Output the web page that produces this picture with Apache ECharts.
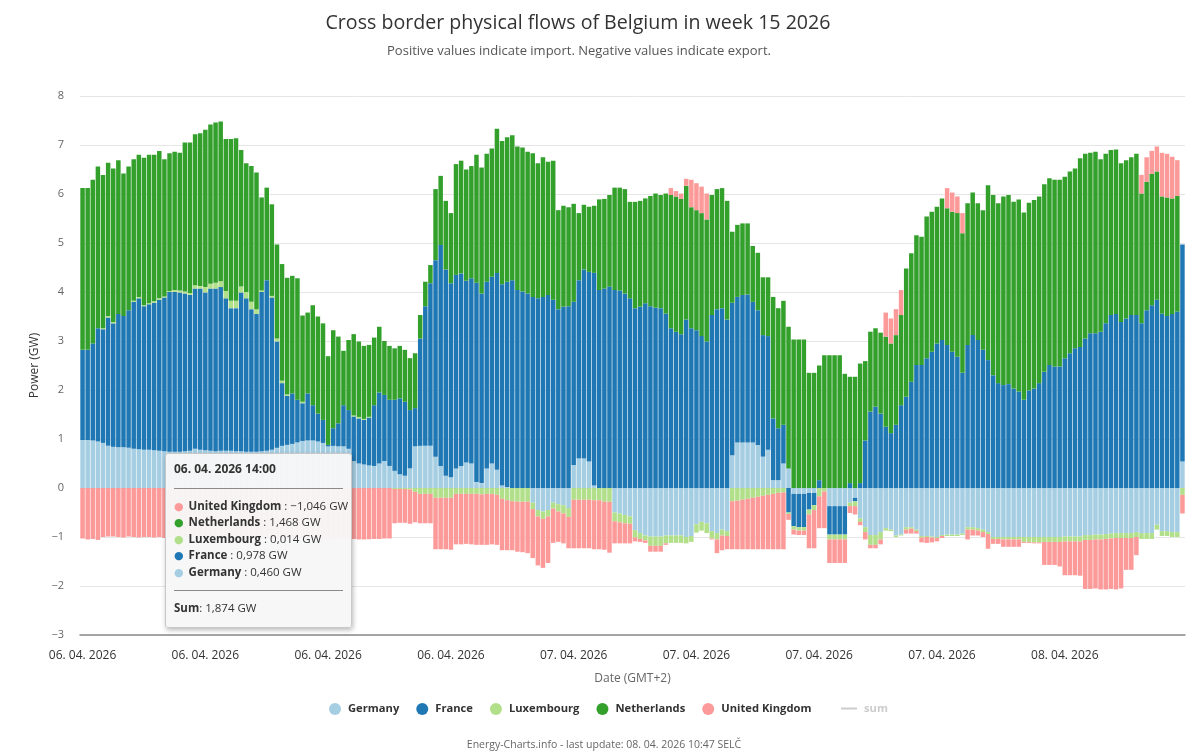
<!DOCTYPE html>
<html>
<head>
<meta charset="utf-8">
<script src="https://cdn.jsdelivr.net/npm/echarts@6/dist/echarts.min.js"></script>
<style>
html,body{margin:0;padding:0;background:#fff;}
#chart{width:1200px;height:752px;}
</style>
</head>
<body>
<div id="chart"></div>
<script>
const days = ['06. 04. 2026', '07. 04. 2026', '08. 04. 2026'];
const seriesNames = ['Germany', 'France', 'Luxembourg', 'Netherlands', 'United Kingdom'];
const seriesColors = ['#a6cee3', '#1f78b4', '#b2df8a', '#33a02c', '#fb9a99'];

const germany = [
0.98,0.98,0.97,0.95,0.92,0.86,0.84,0.83,0.83,0.82,
0.80,0.79,0.78,0.78,0.77,0.76,0.75,0.74,0.74,0.74,
0.75,0.76,0.80,0.78,0.77,0.76,0.75,0.76,0.76,0.76,
0.75,0.75,0.74,0.74,0.74,0.75,0.76,0.78,0.82,0.86,
0.88,0.90,0.93,0.96,0.97,0.97,0.95,0.92,0.85,0.86,
0.85,0.85,0.80,0.55,0.50,0.48,0.46,0.45,0.50,0.55,
0.45,0.35,0.28,0.25,0.40,0.85,0.86,0.86,0.86,0.64,
0.45,0.25,0.22,0.40,0.45,0.52,0.50,0.12,0.10,0.40,
0.50,0.37,0.05,0.02,0,0,0,0,-0.30,-0.45,
-0.48,-0.45,-0.30,-0.33,-0.35,-0.41,0.47,0.60,0.60,0.54,
0.05,0,0,0,-0.50,-0.52,-0.55,-0.58,-0.86,-0.92,
-0.97,-0.99,-0.99,-0.99,-0.97,-0.97,-0.97,-0.97,-1.00,-0.98,
-0.74,-0.69,-0.72,-0.88,-0.92,-0.85,-0.88,0.67,0.93,0.93,
0.93,0.93,0.88,0.64,0.78,0.16,0.16,0.50,0.40,-0.12,
-0.12,-0.12,-0.10,-0.10,0,0,-0.37,-0.37,-0.37,-0.37,
-0.30,-0.20,-0.62,-0.80,-0.96,-0.96,-0.90,-0.82,-0.85,-0.97,
-0.95,-0.80,-0.80,-0.85,-0.98,-0.98,-0.99,-1.00,-0.96,-0.95,
-0.95,-0.95,-0.93,-0.80,-0.80,-0.82,-0.85,-0.90,-1.00,-1.00,
-1.00,-1.00,-1.00,-1.00,-1.00,-1.00,-1.00,-1.00,-1.00,-1.00,
-1.00,-1.00,-0.99,-0.99,-0.99,-0.99,-0.96,-0.96,-0.95,-0.95,
-0.94,-0.93,-0.92,-0.92,-0.92,-0.92,-0.90,-0.92,-0.92,-0.92,
-0.75,-0.88,-0.88,-0.90,-0.90,0.54
];

const france = [
1.84,1.84,1.98,2.31,2.32,2.62,2.52,2.72,2.68,2.81,
3.00,3.08,2.93,2.97,3.01,3.08,3.14,3.26,3.26,3.25,
3.22,3.18,3.27,3.29,3.22,3.31,3.32,3.34,3.11,2.91,
2.92,3.24,3.13,2.91,2.81,3.25,3.48,3.11,2.17,1.28,
1.00,1.03,0.87,0.77,0.96,0.72,0.57,0.47,0.03,0.36,
0.47,0.84,0.79,0.91,0.92,0.91,0.978,1.24,1.45,1.35,
1.35,1.45,1.55,1.51,1.19,0.78,2.19,2.85,3.32,4.01,
4.51,4.21,3.96,3.95,3.93,3.71,3.78,4.07,3.87,3.81,
3.81,4.02,4.11,4.19,4.24,4.04,4.01,3.97,3.90,3.87,
3.90,3.94,3.84,3.65,3.70,3.71,3.33,3.64,3.86,3.87,
4.34,4.04,4.07,4.11,4.04,4.03,3.97,3.87,3.67,3.70,
3.77,3.71,3.68,3.67,3.56,3.26,3.19,3.14,3.44,3.26,
3.22,3.10,2.99,3.53,3.65,3.67,3.44,3.11,2.97,3.01,
3.02,2.87,2.75,2.48,2.32,1.26,1.06,0.79,-0.50,-0.66,
-0.68,-0.68,-0.34,-0.25,0.16,0,-0.58,-0.58,-0.58,-0.58,
0.10,-0.07,0.10,0.97,1.56,1.66,1.52,1.25,1.12,1.29,
1.69,1.86,2.17,2.51,2.51,2.65,2.78,2.95,3.02,2.92,
2.78,2.68,2.35,2.92,3.12,3.02,2.82,2.61,2.30,2.14,
2.10,2.12,2.03,1.97,1.80,1.99,2.03,2.14,2.37,2.51,
2.48,2.48,2.65,2.75,2.85,2.88,3.05,3.16,3.16,3.19,
3.36,3.53,3.55,3.39,3.46,3.53,3.53,3.36,3.63,3.73,
3.84,3.56,3.51,3.55,3.60,4.43
];

const luxembourg = [
0,0,0,0,0.02,0.03,0.03,0,0,0,
0.02,0.03,0.02,0.02,0.03,0.03,0.02,0.02,0.04,0.04,
0.04,0.04,0.07,0.05,0.11,0.10,0.12,0.12,0.15,0.15,
0.15,0.12,0.13,0.15,0.10,0.03,0,0.03,0.06,0.05,
0.03,0,0,0.03,0,0,0,0,0,0,
0,0,0,0.02,0.03,0.02,0.014,0,0,0,
0,-0.02,-0.02,-0.02,-0.03,-0.08,-0.12,-0.12,-0.12,-0.20,
-0.20,-0.20,-0.20,-0.12,-0.12,-0.12,-0.12,-0.12,-0.13,-0.12,
-0.12,-0.14,-0.22,-0.25,-0.27,-0.28,-0.28,-0.28,-0.13,-0.13,
-0.15,-0.13,-0.12,-0.15,-0.17,-0.18,-0.24,-0.24,-0.24,-0.24,
-0.25,-0.25,-0.28,-0.28,-0.18,-0.18,-0.17,-0.15,-0.15,-0.12,
-0.10,-0.19,-0.19,-0.19,-0.16,-0.15,-0.15,-0.15,-0.13,-0.12,
-0.17,-0.18,-0.20,-0.15,-0.13,-0.12,-0.10,-0.27,-0.26,-0.24,
-0.22,-0.20,-0.18,-0.16,-0.14,-0.12,-0.10,-0.09,-0.03,-0.07,
-0.07,-0.07,-0.10,-0.10,-0.17,-0.07,-0.10,-0.10,-0.10,-0.10,
-0.07,-0.10,-0.07,-0.10,-0.20,-0.20,-0.15,-0.05,-0.03,-0.03,
-0.02,-0.05,-0.03,-0.03,-0.03,-0.02,-0.02,-0.02,-0.02,-0.03,
-0.03,-0.03,-0.03,-0.05,-0.05,-0.05,-0.05,-0.04,-0.04,-0.04,
-0.05,-0.05,-0.05,-0.05,-0.10,-0.10,-0.11,-0.11,-0.10,-0.10,
-0.10,-0.10,-0.10,-0.10,-0.10,-0.10,-0.10,-0.10,-0.10,-0.10,
-0.10,-0.10,-0.10,-0.10,-0.10,-0.10,-0.10,-0.12,-0.12,-0.12,
-0.10,-0.10,-0.10,-0.10,-0.10,-0.14
];

const netherlands = [
3.30,3.30,3.34,3.30,3.13,3.13,3.13,3.14,2.91,2.93,
2.89,2.90,3.01,3.03,2.99,3.01,2.80,2.81,2.82,2.81,
3.04,3.07,3.08,3.12,3.21,3.25,3.27,3.26,3.10,3.30,
3.32,2.79,2.63,2.77,2.79,1.90,1.89,1.87,1.92,2.38,
2.38,2.40,2.48,1.76,1.65,2.04,1.98,1.97,1.81,2.00,
1.77,1.11,1.43,1.66,1.54,1.49,1.468,1.38,1.34,1.10,
1.10,1.05,1.07,1.06,1.06,1.12,0.48,0.50,0.37,1.45,
1.41,1.40,1.43,2.26,2.30,2.27,2.29,2.61,2.57,2.61,
2.62,2.94,2.92,2.95,2.96,2.93,2.94,2.89,2.93,2.76,
2.85,2.72,2.84,2.02,2.06,2.02,2.00,1.37,1.32,1.33,
1.37,1.85,1.83,1.87,2.09,2.10,2.13,1.97,2.17,2.16,
2.14,2.25,2.33,2.31,2.45,2.72,2.76,2.76,2.73,2.47,
2.45,2.51,2.49,2.45,2.45,2.45,2.42,1.45,1.47,1.46,
1.45,1.14,1.17,1.18,1.20,2.48,2.45,2.53,2.89,3.03,
3.03,3.03,2.35,2.35,2.34,2.71,2.71,2.71,2.71,2.33,
2.17,2.27,2.44,1.62,1.63,1.60,1.65,1.84,1.83,1.83,
1.84,2.62,2.62,2.65,2.62,2.89,2.86,2.79,2.89,2.79,
2.86,2.93,2.85,2.89,2.91,2.79,2.85,3.57,3.68,3.67,
3.85,3.86,3.81,3.92,3.82,3.83,3.85,3.81,3.83,3.81,
3.81,3.81,3.70,3.71,3.67,3.85,3.77,3.68,3.70,3.52,
3.46,3.37,3.36,3.24,3.23,3.22,3.29,2.65,2.62,2.68,
2.62,2.39,2.42,2.36,2.36,0
];

const unitedKingdom = [
-1.03,-1.05,-1.04,-1.06,-1.00,-0.99,-0.99,-1.00,-1.01,-0.99,
-1.00,-1.01,-1.00,-1.00,-1.01,-1.00,-1.02,-1.01,-1.02,-1.02,
-1.01,-1.02,-1.01,-1.02,-1.01,-1.02,-1.02,-1.01,-1.02,-1.03,
-1.02,-1.02,-1.03,-1.03,-1.02,-1.03,-1.02,-1.03,-1.02,-1.02,
-1.03,-1.02,-1.03,-1.03,-1.02,-1.03,-1.02,-1.03,-1.04,-1.04,
-1.04,-1.03,-1.04,-1.04,-1.05,-1.05,-1.046,-1.04,-1.04,-1.03,
-1.03,-0.70,-0.69,-0.69,-0.70,-0.62,-0.60,-0.60,-0.60,-1.05,
-1.05,-1.05,-1.06,-1.03,-1.03,-1.02,-1.03,-1.04,-1.03,-1.04,
-1.03,-1.02,-1.05,-1.02,-1.00,-1.02,-1.03,-1.05,-1.00,-1.00,
-1.00,-0.95,-0.70,-0.62,-0.61,-0.64,-0.99,-0.99,-0.99,-0.99,
-1.00,-1.00,-0.98,-1.04,-0.45,-0.43,-0.41,-0.40,-0.08,-0.06,
-0.05,-0.12,-0.12,-0.12,-0.03,0.14,0.11,0.11,0.14,0.56,
0.55,0.54,0.53,-0.02,-0.28,-0.30,-0.27,-0.98,-0.99,-1.01,
-1.03,-1.05,-1.07,-1.09,-1.11,-1.13,-1.15,-1.16,-0.12,-0.10,
-0.09,-0.09,-0.69,-0.78,-0.65,-0.75,-0.48,-0.48,-0.48,-0.48,
-0.14,-0.17,-0.07,-0.15,-0.07,-0.07,-0.10,0.49,0.51,0.53,
0.51,-0.08,-0.10,-0.05,-0.10,-0.12,-0.10,-0.07,-0.04,0.41,
0.39,0.34,0.41,-0.20,-0.12,-0.10,-0.10,-0.30,-0.10,-0.10,
-0.15,-0.15,-0.15,-0.15,-0.02,-0.02,-0.02,-0.02,-0.47,-0.47,
-0.47,-0.50,-0.69,-0.69,-0.69,-0.70,-1.00,-1.00,-1.00,-1.02,
-1.03,-1.03,-1.05,-1.03,-0.65,-0.65,-0.37,0.38,0.50,0.47,
0.51,0.89,0.89,0.85,0.73,-0.38
];

const yTicks = { min: -3, max: 8, interval: 1 };
const tooltipIndex = 56;

// 15-minute time slots, starting 06.04.2026 00:00 (GMT+2)
const categories = [];
for (let i = 0; i < germany.length; i++) {
  const d = Math.floor(i / 96), m = (i % 96) * 15;
  categories.push(days[d] + ' ' + String(Math.floor(m / 60)).padStart(2, '0') + ':' + String(m % 60).padStart(2, '0'));
}

const FONT = '"Open Sans", "Noto Sans", "DejaVu Sans", sans-serif';
const seriesData = [germany, france, luxembourg, netherlands, unitedKingdom];

function fmt(v) {
  const s = Math.abs(v).toFixed(3).replace('.', ',');
  return (v < 0 ? '\u2212' : '') + s;
}

const chart = echarts.init(document.getElementById('chart'), null, { renderer: 'canvas' });

const series = seriesNames.map((n, k) => ({
  name: n,
  type: 'bar',
  stack: 'flows',
  stackStrategy: 'samesign',
  data: seriesData[k],
  barCategoryGap: '12%',
  itemStyle: { color: seriesColors[k] },
  emphasis: { disabled: true },
  animation: false
}));
series.push({
  name: 'sum', type: 'line', data: [], symbol: 'none',
  itemStyle: { color: '#666' }, lineStyle: { color: '#666', width: 1 }, animation: false
});

chart.setOption({
  animation: false,
  textStyle: { fontFamily: FONT },
  grid: { left: 80, right: 15, top: 96, bottom: 117, containLabel: false },
  graphic: [
    { type: 'text', x: 578, y: 23, silent: true,
      style: { text: 'Cross border physical flows of Belgium in week 15 2026', fontSize: 19.6, fontFamily: FONT, fill: '#333', align: 'center', verticalAlign: 'middle' } },
    { type: 'text', x: 579, y: 51, silent: true,
      style: { text: 'Positive values indicate import. Negative values indicate export.', fontSize: 13, fontFamily: FONT, fill: '#555', align: 'center', verticalAlign: 'middle' } },
    { type: 'text', x: 604, y: 745, silent: true,
      style: { text: 'Energy-Charts.info - last update: 08. 04. 2026 10:47 SELČ', fontSize: 10.5, fontFamily: FONT, fill: '#666', align: 'center', verticalAlign: 'middle' } }
  ],
  legend: [
    {
      data: seriesNames, left: 324, top: 698, icon: 'circle', itemWidth: 12, itemHeight: 12, itemGap: 17,
      textStyle: { fontSize: 11.2, fontWeight: 'bold', color: '#333', fontFamily: FONT, padding: [0, 0, 0, 2] }
    },
    {
      data: [{ name: 'sum', icon: 'rect' }], left: 836, top: 698, itemWidth: 16, itemHeight: 2,
      selected: { sum: false }, inactiveColor: '#ccc',
      textStyle: { fontSize: 11.2, fontWeight: 'bold', color: '#333', fontFamily: FONT, padding: [0, 0, 0, 2] }
    }
  ],
  tooltip: {
    trigger: 'axis',
    triggerOn: 'none',
    alwaysShowContent: true,
    position: [165, 453],
    transitionDuration: 0,
    axisPointer: { type: 'none' },
    backgroundColor: 'rgba(247,247,247,0.96)',
    borderColor: '#c8c8c8',
    borderWidth: 1,
    padding: [7, 8, 10, 8],
    extraCssText: 'box-shadow:1px 2px 5px rgba(0,0,0,0.28);border-radius:3px;width:169px;',
    textStyle: { fontFamily: FONT, fontSize: 12, color: '#333' },
    formatter: function (params) {
      const rows = params.filter(p => p.seriesName !== 'sum').slice().reverse();
      let sum = 0;
      rows.forEach(p => { sum += p.value; });
      const ff = FONT.replace(/"/g, "'");
      let h = '<div style="font-family:' + ff + ';color:#333">';
      h += '<div style="font-weight:bold;font-size:12px;height:16.5px;line-height:16.5px">' + params[0].name + '</div>';
      h += '<div style="border-top:1px solid #8a8a8a;margin:10px 0 9px 0;height:0"></div>';
      rows.forEach(p => {
        h += '<div style="white-space:nowrap;font-size:11.5px;height:16.5px;line-height:16.5px"><span style="color:' + p.color + ';font-size:11px;margin:0 5px 0 0">\u25CF</span><b>' + p.seriesName + '</b> : ' + fmt(p.value) + ' GW</div>';
      });
      h += '<div style="border-top:1px solid #8a8a8a;margin:10px 0 9px 0;height:0"></div>';
      h += '<div style="font-size:11.5px;height:16.5px;line-height:16.5px"><b>Sum</b>: ' + fmt(sum) + ' GW</div></div>';
      return h;
    }
  },
  xAxis: {
    type: 'category',
    data: categories,
    boundaryGap: true,
    name: 'Date (GMT+2)',
    nameLocation: 'middle',
    nameGap: 38,
    nameTextStyle: { color: '#666', fontSize: 12, fontFamily: FONT },
    axisLine: { onZero: false, lineStyle: { color: '#8a8a8a', width: 1.5 } },
    axisTick: { show: false },
    axisLabel: {
      interval: 23, color: '#333', fontSize: 12, margin: 15, fontFamily: FONT,
      formatter: v => v.slice(0, 12)
    },
    splitLine: { show: false }
  },
  yAxis: {
    type: 'value',
    min: yTicks.min, max: yTicks.max, interval: yTicks.interval,
    name: 'Power (GW)',
    nameLocation: 'middle',
    nameRotate: 90,
    nameGap: 38,
    nameTextStyle: { color: '#333', fontSize: 12, fontFamily: FONT },
    axisLine: { show: false },
    axisTick: { show: false },
    axisLabel: { color: '#666', fontSize: 11, margin: 16, fontFamily: FONT,
      formatter: v => (v < 0 ? '\u2212' + Math.abs(v) : String(v)) },
    splitLine: { lineStyle: { color: '#e6e6e6', width: 1 } }
  },
  series: series
});

chart.dispatchAction({ type: 'showTip', seriesIndex: 0, dataIndex: tooltipIndex });
</script>
</body>
</html>
